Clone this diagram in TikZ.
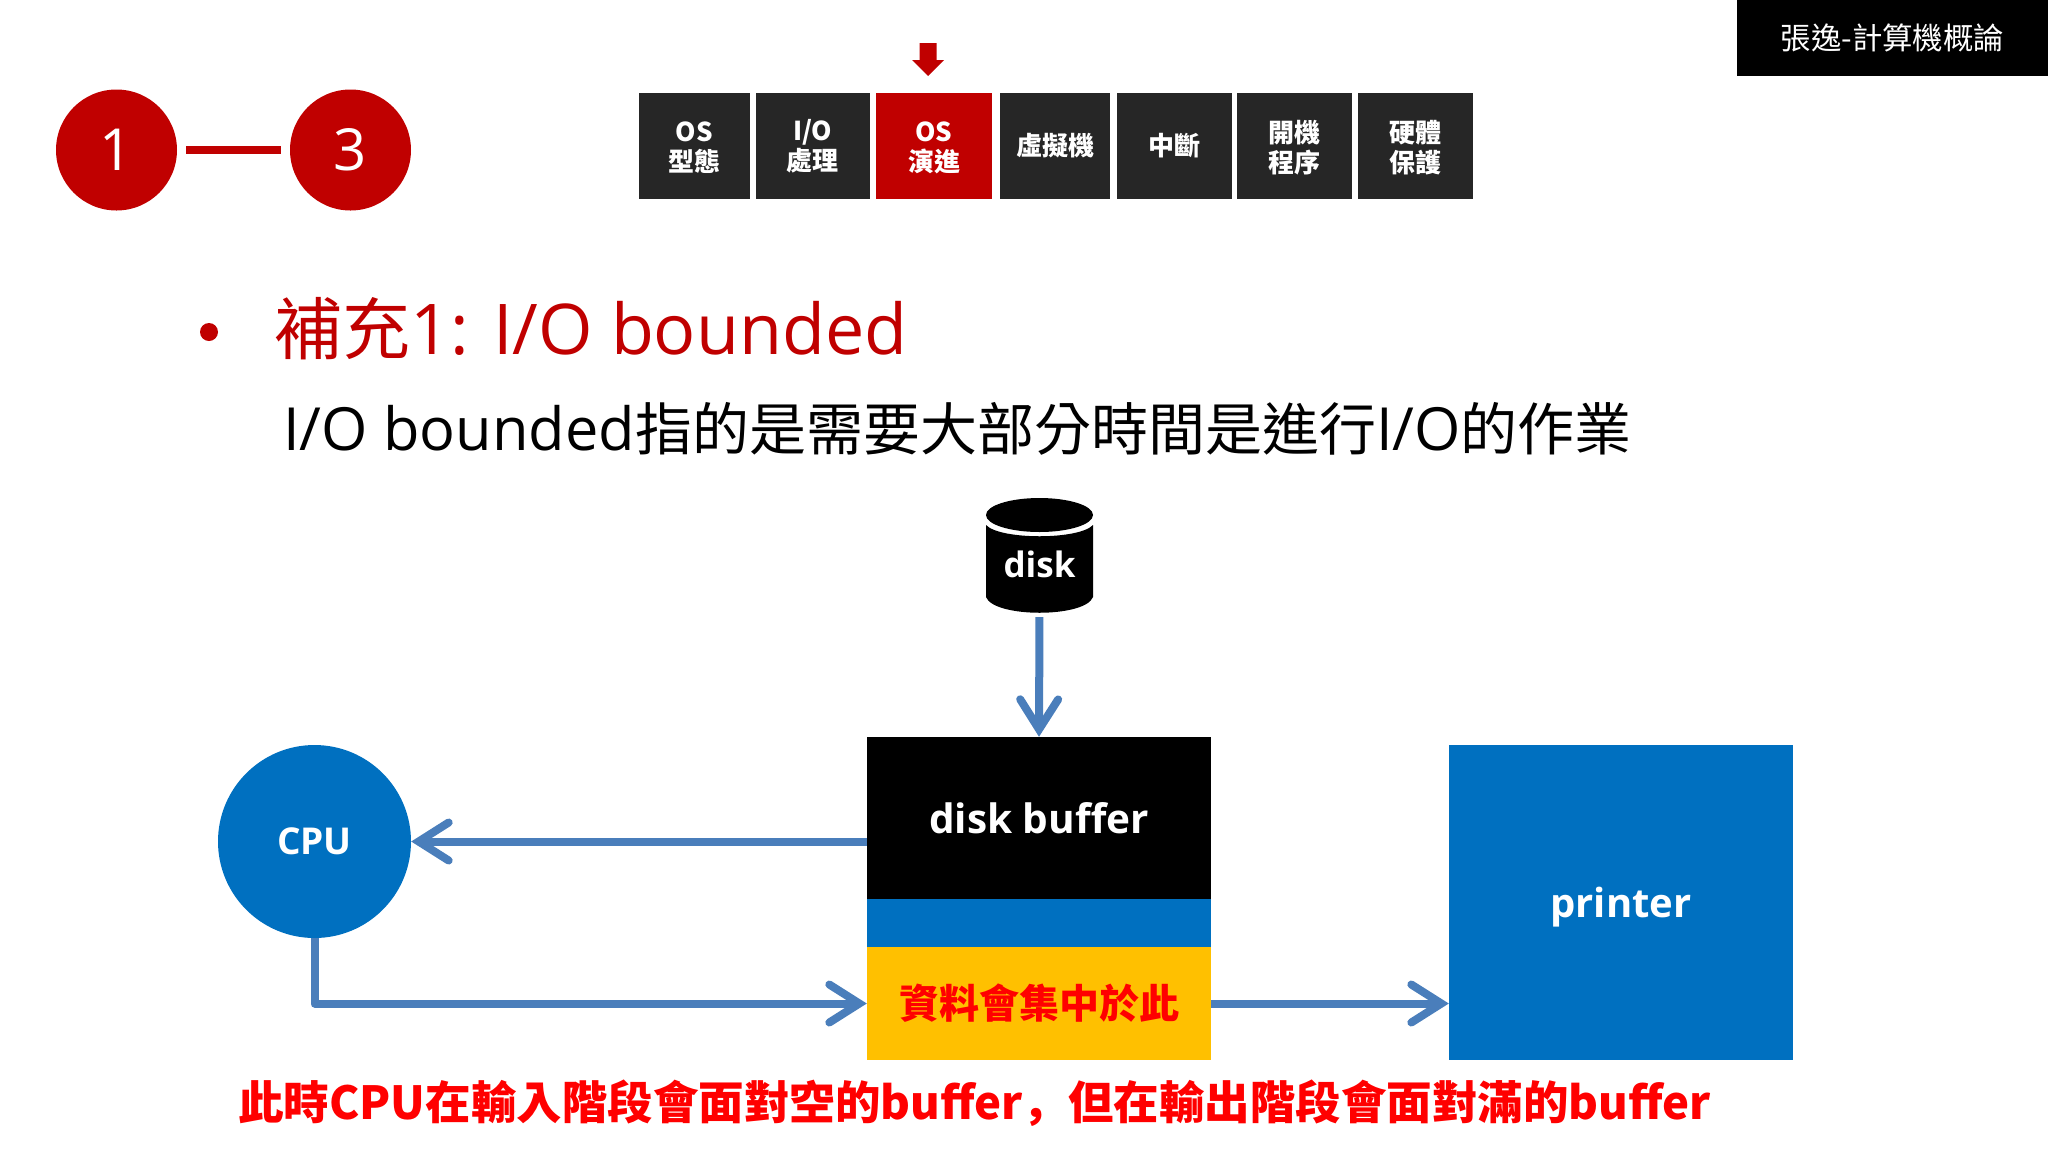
\documentclass[tikz,border=0pt]{standalone}
\usepackage{fontspec}
\setmainfont{Open Sans}
\newfontfamily\cjk{Noto Sans CJK TC}
\newfontfamily\cjksc{Noto Sans CJK SC}
\usetikzlibrary{arrows.meta,calc,shapes.geometric}
\definecolor{deepred}{HTML}{C00000}
\definecolor{tabdark}{HTML}{262626}
\definecolor{msblue}{HTML}{0070C0}
\definecolor{msyellow}{HTML}{FFC000}
\definecolor{linkblue}{HTML}{4A7EBB}
\definecolor{hotred}{HTML}{FF0000}
\newcommand{\fs}[1]{\fontsize{#1}{#1}\selectfont}
\newcommand{\lat}{\rule{0pt}{22.5pt}}
\newcommand{\han}{\rule{0pt}{26pt}}
\tikzset{
  tabbox/.style={rectangle,fill=tabdark,text=white,inner sep=0pt,minimum height=106pt,align=center,font=\fontsize{26}{30}\selectfont\bfseries\cjk},
  activetab/.style={tabbox,fill=deepred},
  stepdot/.style={circle,fill=deepred,text=white,inner sep=0pt,minimum size=121pt,font=\fs{58}},
  boxw/.style={rectangle,inner sep=0pt,minimum width=344pt},
  labelw/.style={text=white,font=\fs{40.5}\bfseries},
  link/.style={draw=linkblue,line width=8pt,line join=round,-{Straight Barb[length=30pt,width=38pt,line cap=round,line join=miter]}},
}
\begin{document}
\begin{tikzpicture}[x=1pt,y=-1pt]
\useasboundingbox (0,0) rectangle (2048,1152);
% title box
\node[rectangle,fill=black,text=white,inner sep=0pt,minimum width=311pt,minimum height=76pt,font=\fs{30.4}\cjk] (brand) at (1892.5,38) {張逸-計算機概論};
% step indicator
\node[stepdot] (s1) at (116.5,150) {1};
\node[stepdot] (s3) at (350.5,150) {3};
\draw[deepred,line width=8pt,shorten <=9pt,shorten >=9pt] (s1) -- (s3);
% tabs
\node[tabbox,minimum width=111.5pt] (t1) at (694.25,146) {\lat OS\\型態};
\node[tabbox,minimum width=114.5pt] (t2) at (812.75,146) {\lat I/O\\處理};
\node[activetab,minimum width=115.5pt] (t3) at (934,146) {\lat OS\\演進};
\node[tabbox,minimum width=110pt] (t4) at (1055,146) {虛擬機};
\node[tabbox,minimum width=115.5pt] (t5) at (1174.25,146) {中斷};
\node[tabbox,minimum width=115pt] (t6) at (1294.5,146) {\han 開機\\程序};
\node[tabbox,minimum width=115pt] (t7) at (1415.5,146) {\han 硬體\\保護};
% marker arrow
\fill[deepred] (919.5,43) -- (936.5,43) -- (936.5,60) -- (944,60) -- (928,76) -- (912,60) -- (919.5,60) -- cycle;
% heading
\fill[deepred] (209,332) circle (9);
\node[anchor=base west,inner sep=0pt,text=deepred,font=\fs{70}] (head) at (274,354) {{\fs{68}\cjk 補充}1: I/O bounded};
\node[anchor=base west,inner sep=0pt,text=black,font=\fs{59.5}] (sub) at (283,450) {I/O bounded{\fs{57}\cjk 指的是需要大部分時間是進行}I/O{\fs{57}\cjk 的作業}};
% disk
\fill[black] (986,525) .. controls (1000,540) and (1079,540) .. (1093,525) -- (1093,597) .. controls (1085,618) and (994,618) .. (986,597) -- cycle;
\fill[black] (1039.5,515) ellipse (53.5 and 17);
\node[rectangle,inner sep=0pt,minimum width=107pt,minimum height=113pt,text=white,font=\fs{35}\bfseries,text height=45pt,text depth=0pt] (disk) at (1039.5,554.5) {disk};
% boxes
\node[boxw,fill=black,minimum height=162pt,labelw] (buf) at (1039,818) {disk buffer};
\node[boxw,fill=msblue,minimum height=48pt] (mid) at (1039,923) {};
\node[boxw,fill=msyellow,minimum height=113pt,text=hotred,font=\fs{40}\bfseries\cjk] (yellow) at (1039,1003.5) {資料會集中於此};
\node[rectangle,inner sep=0pt,minimum width=344pt,minimum height=315pt,fill=msblue,labelw,font=\fs{40}\bfseries,text height=40pt,text depth=10pt] (printer) at (1621,902.5) {printer};
\node[circle,inner sep=0pt,minimum size=193pt,fill=msblue,labelw,font=\fs{37}\bfseries] (cpu) at (314.5,841.5) {CPU};
% connectors
\draw[link,shorten <=6pt] (disk.south) -- (buf.north);
\draw[link] (buf.west |- cpu.east) -- (cpu.east);
\draw[link] (cpu.south) |- (yellow.west);
\draw[link] (yellow.east) -- (yellow.east -| printer.west);
% note
\node[inner sep=0pt,text=hotred,font=\fs{45.5}\bfseries\cjk] (note) at (974.5,1103) {此時CPU在輸入階段會面對空的buffer{\cjksc ，}但在輸出階段會面對滿的buffer};
\end{tikzpicture}
\end{document}
